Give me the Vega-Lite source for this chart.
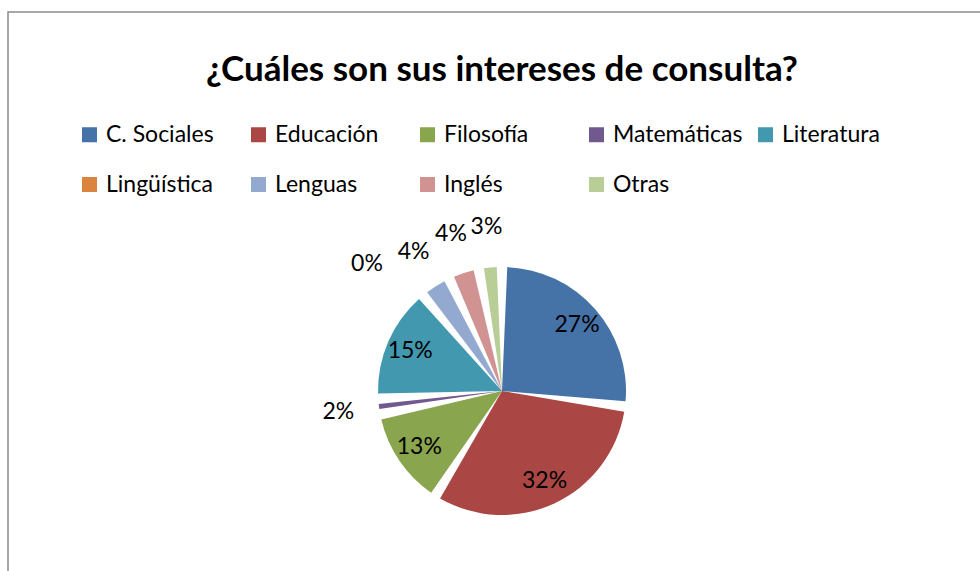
{
  "$schema": "https://vega.github.io/schema/vega-lite/v6.json",
  "width": 988,
  "height": 758,
  "autosize": {"type": "none"},
  "padding": {"left": 8, "top": 12, "right": 0, "bottom": 0},
  "background": "white",
  "view": {"stroke": "#8c8c8c", "strokeWidth": 1.5, "fill": "white"},
  "config": {
    "view": {"stroke": "#8c8c8c", "strokeWidth": 1.5},
    "style": {"cell": {"stroke": "#8c8c8c", "strokeWidth": 1.5}},
    "font": "Lato"
  },
  "title": {
    "text": "¿Cuáles son sus intereses de consulta?",
    "fontSize": 35,
    "font": "Lato",
    "fontWeight": "bold",
    "color": "black",
    "anchor": "middle",
    "frame": "group",
    "offset": -76
  },
  "data": {
    "values": [
      {"tema": "C. Sociales", "v": 0.27, "orden": 1},
      {"tema": "Educación", "v": 0.32, "orden": 2},
      {"tema": "Filosofía", "v": 0.13, "orden": 3},
      {"tema": "Matemáticas", "v": 0.02, "orden": 4},
      {"tema": "Literatura", "v": 0.15, "orden": 5},
      {"tema": "Lingüística", "v": 0.0, "orden": 6},
      {"tema": "Lenguas", "v": 0.04, "orden": 7},
      {"tema": "Inglés", "v": 0.04, "orden": 8},
      {"tema": "Otras", "v": 0.03, "orden": 9}
    ]
  },
  "encoding": {
    "theta": {"field": "v", "type": "quantitative", "stack": true},
    "order": {"field": "orden", "type": "quantitative"}
  },
  "layer": [
    {
      "mark": {"type": "arc", "outerRadius": 124, "padAngle": 0.085},
      "encoding": {
        "color": {
          "field": "tema",
          "type": "nominal",
          "sort": ["C. Sociales", "Educación", "Filosofía", "Matemáticas", "Literatura", "Lingüística", "Lenguas", "Inglés", "Otras"],
          "scale": {
            "domain": ["C. Sociales", "Educación", "Filosofía", "Matemáticas", "Literatura", "Lingüística", "Lenguas", "Inglés", "Otras"],
            "range": ["#4572A7", "#AA4643", "#89A54E", "#71588F", "#4198AF", "#DB843D", "#93A9CF", "#D19392", "#B9CD96"]
          },
          "legend": {
            "title": null,
            "orient": "none",
            "direction": "horizontal",
            "legendX": 70,
            "legendY": 111,
            "columns": 5,
            "gridAlign": "all",
            "symbolType": "square",
            "symbolSize": 225,
            "symbolStrokeWidth": 0,
            "labelFontSize": 23,
            "labelFont": "Lato",
            "labelColor": "black",
            "labelOffset": 5,
            "columnPadding": 11,
            "rowPadding": 26,
            "labelLimit": 300
          }
        }
      }
    },
    {
      "mark": {"type": "text", "radius": 100, "fontSize": 23, "font": "Lato", "color": "black"},
      "encoding": {
        "text": {
          "condition": {"test": "datum.v >= 0.1", "field": "v", "type": "quantitative", "format": ".0%"},
          "value": ""
        }
      }
    },
    {
      "mark": {"type": "text", "radius": 165, "fontSize": 23, "font": "Lato", "color": "black"},
      "encoding": {
        "text": {
          "condition": {"test": "datum.v > 0 && datum.v < 0.1", "field": "v", "type": "quantitative", "format": ".0%"},
          "value": ""
        }
      }
    },
    {
      "mark": {"type": "text", "radius": 165, "fontSize": 23, "font": "Lato", "color": "black", "align": "right", "dx": -14},
      "encoding": {
        "text": {
          "condition": {"test": "datum.v == 0", "field": "v", "type": "quantitative", "format": ".0%"},
          "value": ""
        }
      }
    }
  ]
}
